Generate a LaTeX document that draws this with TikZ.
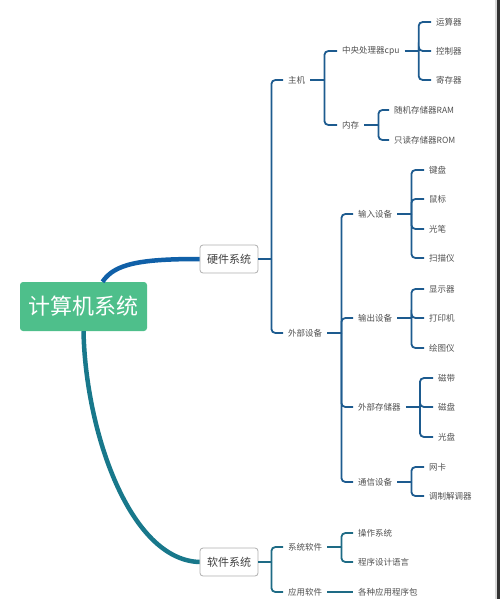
\documentclass[tikz,border=0pt]{standalone}
\usepackage{fontspec}
\setmainfont{Noto Sans CJK SC}
\definecolor{rootgreen}{HTML}{4EBF8B}
\definecolor{hwblue}{HTML}{1060A8}
\definecolor{hwline}{HTML}{1D5B8F}
\definecolor{swteal}{HTML}{18788B}
\definecolor{swline}{HTML}{1E6B85}
\definecolor{txtgray}{HTML}{505050}
\definecolor{boxgray}{HTML}{AFAFAF}
\tikzset{
  leaf/.style={anchor=west, inner xsep=5pt, inner ysep=2pt, text=txtgray,
    font=\fontsize{8.5}{10}\selectfont},
  topbox/.style={draw=boxgray, line width=0.8pt, rounded corners=3pt, fill=white,
    minimum width=58pt, minimum height=28pt, inner sep=0pt, text=black!75,
    font=\fontsize{11}{13}\selectfont},
  hw/.style={draw=hwline, line width=1.8pt},
  sw/.style={draw=swline, line width=1.8pt},
}
% parent, children, style
\newcommand{\fork}[3][hw]{%
  \draw[#1] (#2.east) -- ++(14pt,0) coordinate (#2-t);
  \foreach \c in {#3} {\draw[#1, rounded corners=4pt] (#2-t) |- (\c.west);}
}
\begin{document}
\begin{tikzpicture}[x=1pt, y=-1pt]
    \useasboundingbox (0,0) rectangle (500,599);
    % screen edge
    \fill[black!15] (495,0) rectangle (497,599);
    \fill[black!80] (497,0) rectangle (500,599);

    % root and the two systems
    \node[fill=rootgreen, rounded corners=3pt, minimum width=127pt, minimum height=49pt,
        inner sep=0pt, text=white, font=\fontsize{22}{24}\selectfont] (root) at (83.5,306.5) {计算机系统};
    \node[topbox] (hw) at (229,259) {硬件系统};
    \node[topbox] (sw) at (229,562) {软件系统};
    \draw[hwblue, line width=4.5pt] ([xshift=19pt]root.north) .. controls +(12,-18) and +(-60,0) .. (hw.west);
    \draw[swteal, line width=4.5pt] (root.south) .. controls +(2,100) and +(-70,-2) .. (sw.west);

    % hardware
    \node[leaf] (zhuji) at (283,80) {主机};
    \node[leaf] (waibu) at (283,333) {外部设备};
    \draw[hw] (hw.east) -- ++(13pt,0) coordinate (hw-t);
    \foreach \c in {zhuji,waibu} {\draw[hw, rounded corners=4pt] (hw-t) |- (\c.west);}

    \node[leaf] (cpu) at (337,51) {中央处理器cpu};
    \node[leaf] (neicun) at (337,125) {内存};
    \fork{zhuji}{cpu,neicun}

    \node[leaf] (yunsuan) at (431,22) {运算器};
    \node[leaf] (kongzhi) at (431,51) {控制器};
    \node[leaf] (jicun) at (431,80) {寄存器};
    \fork{cpu}{yunsuan,kongzhi,jicun}

    \node[leaf] (ram) at (389,110) {随机存储器RAM};
    \node[leaf] (rom) at (389,140) {只读存储器ROM};
    \fork{neicun}{ram,rom}

    \node[leaf] (shuru) at (353,214) {输入设备};
    \node[leaf] (shuchu) at (353,318) {输出设备};
    \node[leaf] (cunchu) at (353,407) {外部存储器};
    \node[leaf] (tongxin) at (353,482) {通信设备};
    \fork{waibu}{shuru,shuchu,cunchu,tongxin}

    \node[leaf] (jianpan) at (424,170) {键盘};
    \node[leaf] (shubiao) at (424,199) {鼠标};
    \node[leaf] (guangbi) at (424,229) {光笔};
    \node[leaf] (saomiao) at (424,258) {扫描仪};
    \fork{shuru}{jianpan,shubiao,guangbi,saomiao}

    \node[leaf] (xianshi) at (424,289) {显示器};
    \node[leaf] (dayin) at (424,318) {打印机};
    \node[leaf] (huitu) at (424,348) {绘图仪};
    \fork{shuchu}{xianshi,dayin,huitu}

    \node[leaf] (cidai) at (433,378) {磁带};
    \node[leaf] (cipan) at (433,407) {磁盘};
    \node[leaf] (guangpan) at (433,437) {光盘};
    \fork{cunchu}{cidai,cipan,guangpan}

    \node[leaf] (wangka) at (424,467) {网卡};
    \node[leaf] (modem) at (424,496) {调制解调器};
    \fork{tongxin}{wangka,modem}

    % software
    \node[leaf] (xitong) at (283,547) {系统软件};
    \node[leaf] (yingyong) at (283,592) {应用软件};
    \draw[sw] (sw.east) -- ++(13pt,0) coordinate (sw-t);
    \foreach \c in {xitong,yingyong} {\draw[sw, rounded corners=4pt] (sw-t) |- (\c.west);}

    \node[leaf] (caozuo) at (353,533) {操作系统};
    \node[leaf] (yuyan) at (353,562) {程序设计语言};
    \fork[sw]{xitong}{caozuo,yuyan}

    \node[leaf] (baos) at (353,592) {各种应用程序包};
    \draw[sw] (yingyong.east) -- (baos.west);
\end{tikzpicture}
\end{document}
